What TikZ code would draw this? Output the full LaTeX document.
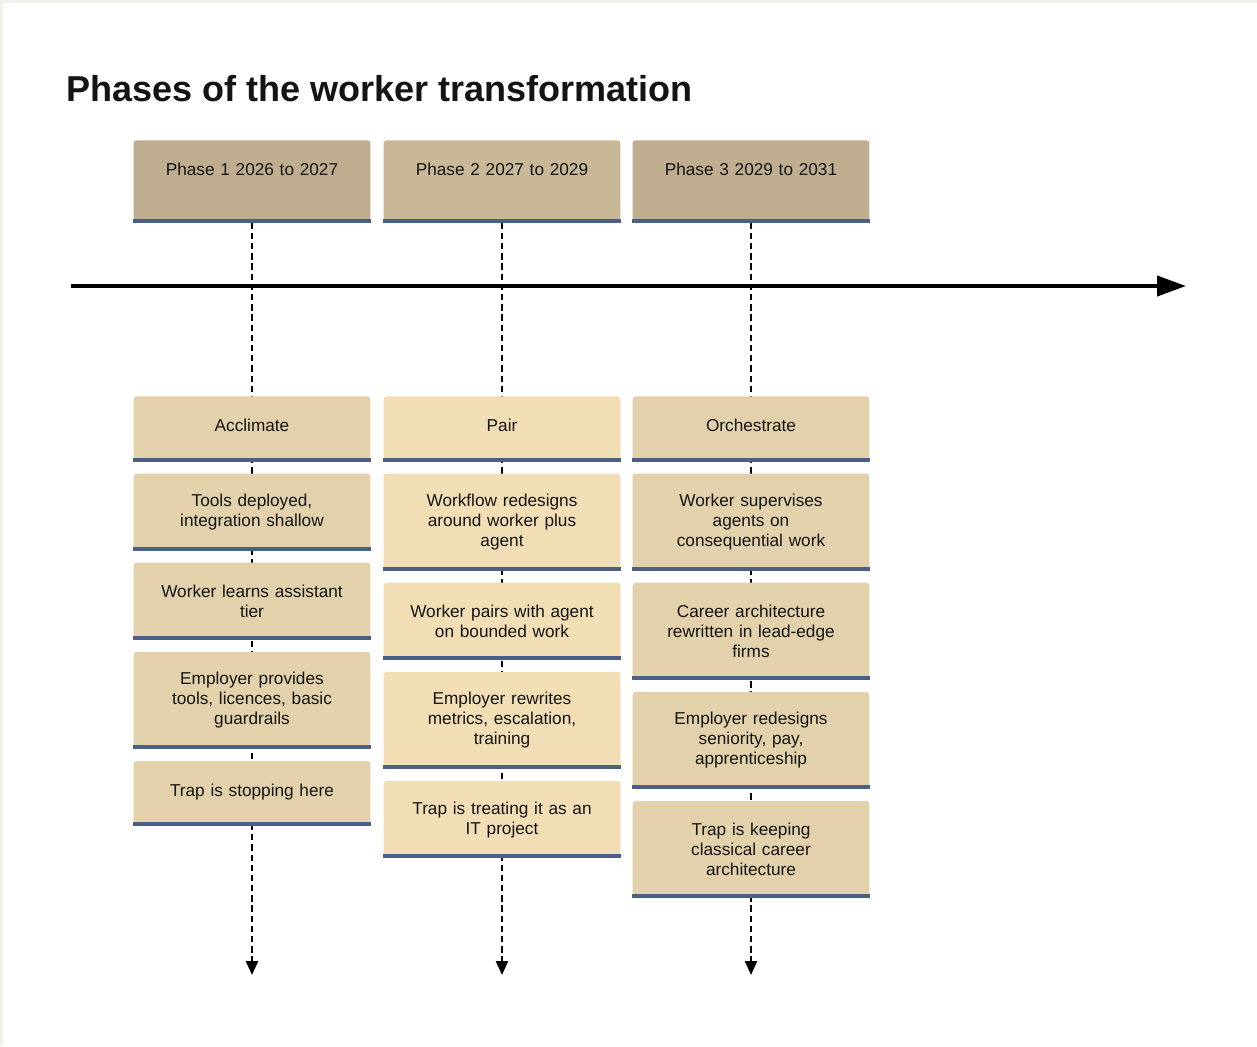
\documentclass[tikz,border=0pt]{standalone}
\usepackage{fontspec}
\setmainfont{Liberation Sans}
\usepackage{tikz}
\usetikzlibrary{arrows.meta, positioning}

\definecolor{pagebg}{RGB}{243,241,235}
\definecolor{headdark}{RGB}{190,174,143}
\definecolor{headlight}{RGB}{201,184,152}
\definecolor{boxdark}{RGB}{226,209,170}
\definecolor{boxlight}{RGB}{241,222,181}
\definecolor{barblue}{RGB}{75,94,132}
\definecolor{ink}{RGB}{20,20,20}

\tikzset{
  stepbox/.style={rounded corners=0.06cm, inner xsep=0.22cm, inner ysep=0pt,
    text width=4.3cm, align=center, text=ink,
    font=\fontsize{9.8}{11.4}\selectfont},
  headbox/.style={stepbox, text height=0.7cm, text depth=0.94cm},
  onebox/.style={stepbox, text height=0.7cm, text depth=0.6cm},
  twobox/.style={stepbox, minimum height=1.54cm},
  threebox/.style={stepbox, minimum height=1.94cm},
  bar/.style={barblue, line width=0.08cm},
  dashedline/.style={-{Triangle[length=0.28cm, width=0.24cm]}, line width=1.3pt,
    dash pattern=on 3.6pt off 2.2pt},
}

\begin{document}
\begin{tikzpicture}[x=0.02cm, y=-0.02cm]
  % page and frame
  \fill[pagebg] (0,0) rectangle (1257,1046);
  \fill[white] (3,3) rectangle (1257,1046);
  \useasboundingbox (0,0) rectangle (1257,1046);

  % title
  \node[anchor=base west, inner sep=0pt, text=ink,
        font=\fontsize{20.5}{24}\selectfont\bfseries] (title) at (66,101)
        {Phases of the worker transformation};

  % phase headers
  \node[headbox, fill=headdark, anchor=north] (phase1) at (252,140) {Phase 1 2026 to 2027};
  \node[headbox, fill=headlight, anchor=north] (phase2) at (502,140) {Phase 2 2027 to 2029};
  \node[headbox, fill=headdark, anchor=north] (phase3) at (751,140) {Phase 3 2029 to 2031};

  % dashed drop lines under each phase
  \foreach \c/\x in {1/252, 2/502, 3/751} {
    \coordinate (end\c) at (\x,975);
    \draw[dashedline] (phase\c) -- (end\c);
  }

  % time axis
  \coordinate (axisstart) at (71,286);
  \coordinate (axisend) at (1186,286);
  \draw[line width=0.08cm, -{Triangle[length=0.58cm, width=0.4cm]}] (axisstart) -- (axisend);

  % phase 1 column
  \node[onebox, fill=boxdark, anchor=north] (acclimate) at (252,396) {Acclimate};
  \node[twobox, fill=boxdark, below=0.23cm of acclimate] (tools) {Tools deployed,\\integration shallow};
  \node[twobox, fill=boxdark, below=0.23cm of tools] (learns) {Worker learns assistant\\tier};
  \node[threebox, fill=boxdark, below=0.23cm of learns] (provides) {Employer provides\\tools, licences, basic\\guardrails};
  \node[onebox, fill=boxdark, below=0.23cm of provides] (trapone) {Trap is stopping here};

  % phase 2 column
  \node[onebox, fill=boxlight, anchor=north] (pair) at (502,396) {Pair};
  \node[threebox, fill=boxlight, below=0.23cm of pair] (workflow) {Workflow redesigns\\around worker plus\\agent};
  \node[twobox, fill=boxlight, below=0.23cm of workflow] (pairs) {Worker pairs with agent\\on bounded work};
  \node[threebox, fill=boxlight, below=0.23cm of pairs] (rewrites) {Employer rewrites\\metrics, escalation,\\training};
  \node[twobox, fill=boxlight, below=0.23cm of rewrites] (traptwo) {Trap is treating it as an\\IT project};

  % phase 3 column
  \node[onebox, fill=boxdark, anchor=north] (orchestrate) at (751,396) {Orchestrate};
  \node[threebox, fill=boxdark, below=0.23cm of orchestrate] (supervises) {Worker supervises\\agents on\\consequential work};
  \node[threebox, fill=boxdark, below=0.23cm of supervises] (career) {Career architecture\\rewritten in lead-edge\\firms};
  \node[threebox, fill=boxdark, below=0.23cm of career] (redesigns) {Employer redesigns\\seniority, pay,\\apprenticeship};
  \node[threebox, fill=boxdark, below=0.23cm of redesigns] (trapthree) {Trap is keeping\\classical career\\architecture};

  % blue base bars
  \foreach \n in {phase1, phase2, phase3, acclimate, tools, learns, provides, trapone,
                  pair, workflow, pairs, rewrites, traptwo,
                  orchestrate, supervises, career, redesigns, trapthree} {
    \draw[bar] ([yshift=0.04cm]\n.south west) -- ([yshift=0.04cm]\n.south east);
  }
\end{tikzpicture}
\end{document}
